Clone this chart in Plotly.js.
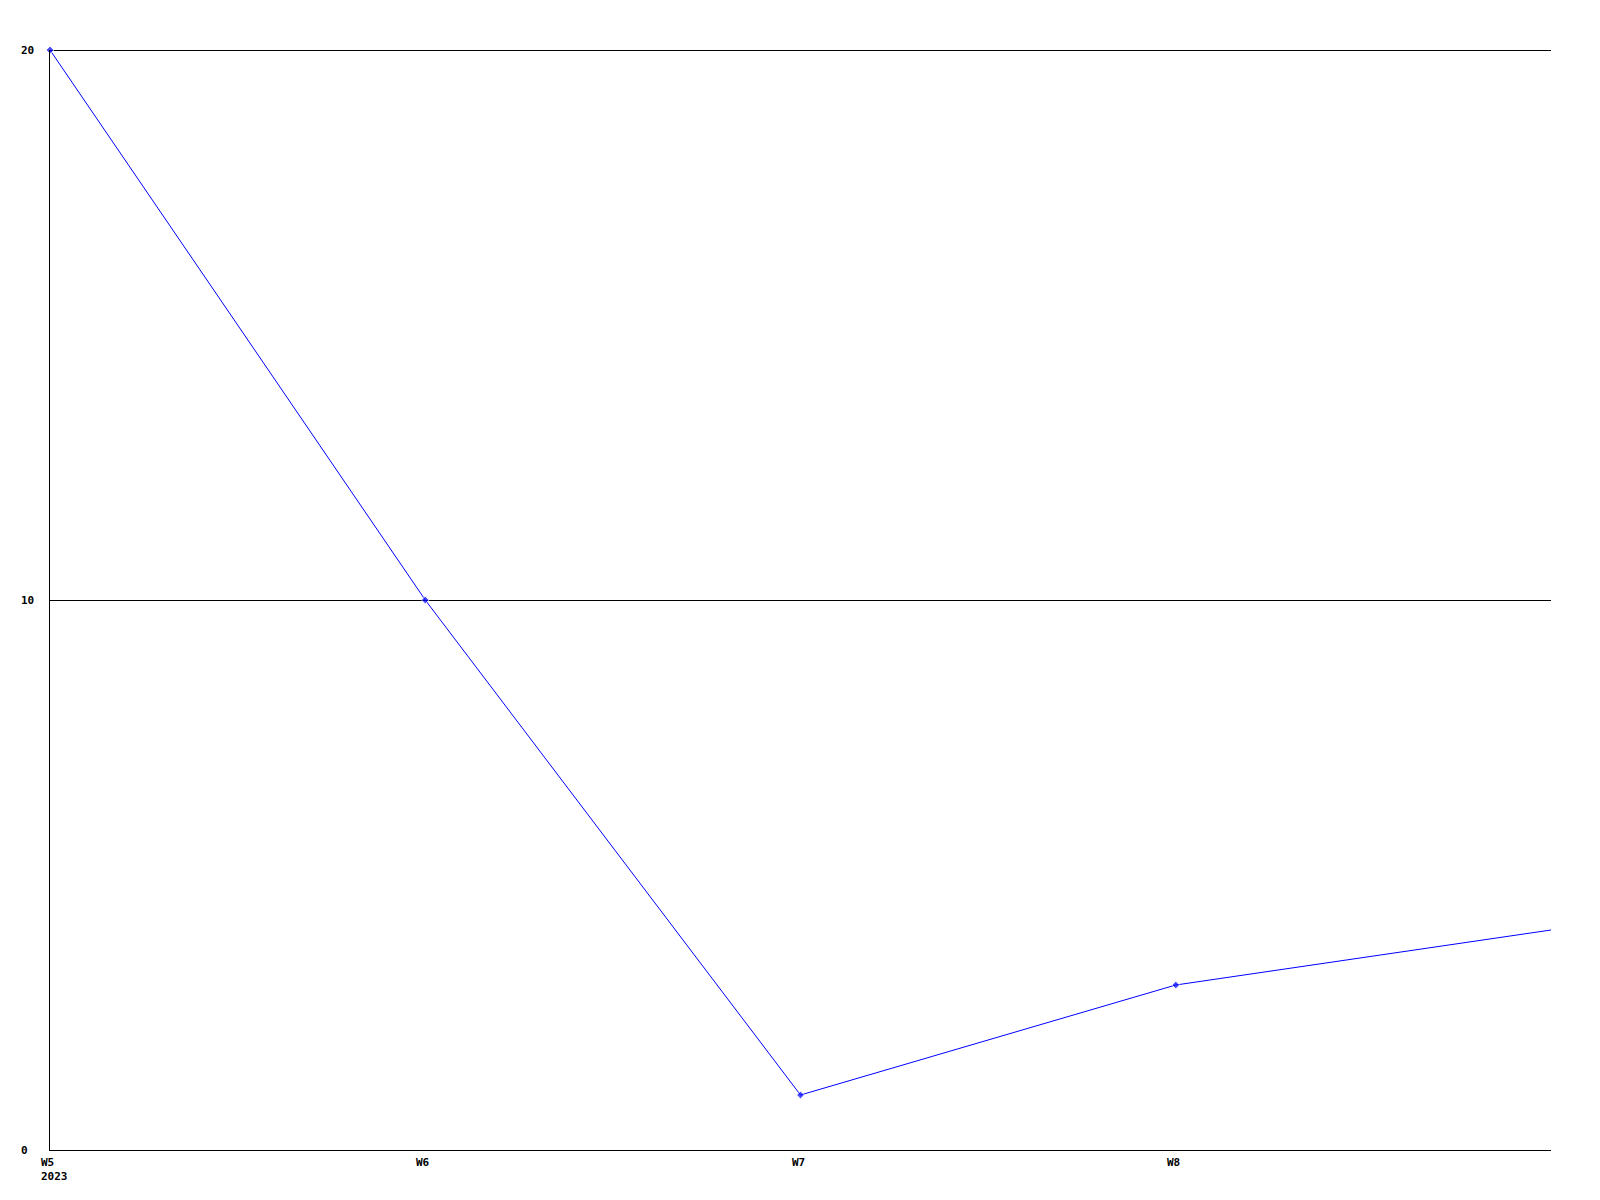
<!DOCTYPE html>
<html>
<head>
<meta charset="utf-8">
<script src="https://cdn.plot.ly/plotly-3.0.1.min.js"></script>
<style>
html,body{margin:0;padding:0;background:#fff;}
#chart{width:1600px;height:1200px;}
#chart .shapelayer path{shape-rendering:crispEdges;}
</style>
</head>
<body>
<div id="chart"></div>
<script>
// Data
const weekIndex = [0, 1, 2, 3, 4];
const values = [20, 10, 1, 3, 4];
const tickPositions = [0, 1, 2, 3];
const tickLabels = ["W5<br>2023", "W6", "W7", "W8"];
const yTicks = [0, 10, 20];

const font = {family: "DejaVu Sans Mono, monospace", size: 11, color: "#000"};

const trace = {
  x: weekIndex,
  y: values,
  type: "scatter",
  mode: "lines+markers",
  line: {color: "#0000ff", width: 1},
  marker: {color: "#0000ff", size: weekIndex.map((_, i) => i === weekIndex.length - 1 ? 0 : 6), symbol: "diamond"},
  cliponaxis: false,
  hoverinfo: "none"
};

const bold = s => "<b>" + s.split("<br>").join("</b><br><b>") + "</b>";

const xAnnotations = tickPositions.map((p, i) => ({
  x: p, xref: "x",
  y: 0, yref: "paper",
  yanchor: "top", xanchor: "left",
  xshift: -11, yshift: -4,
  align: "left",
  showarrow: false,
  text: bold(tickLabels[i]),
  font: font
}));

const yAnnotations = yTicks.map(v => ({
  x: 0, xref: "paper",
  y: v, yref: "y",
  xanchor: "left", yanchor: "middle",
  xshift: -31,
  align: "left",
  showarrow: false,
  text: bold(String(v)),
  font: font
}));

const gridShapes = yTicks.filter(v => v > 0).map(v => ({
  type: "line", xref: "paper", yref: "y",
  x0: 0, x1: 1, y0: v, y1: v,
  line: {color: "#000", width: 1},
  layer: "below"
}));

const layout = {
  width: 1600, height: 1200,
  margin: {l: 50, r: 49, t: 50, b: 50},
  paper_bgcolor: "#fff", plot_bgcolor: "#fff",
  showlegend: false,
  font: font,
  xaxis: {
    range: [0, 4],
    showgrid: false, zeroline: false,
    showline: true, linecolor: "#000", linewidth: 1,
    showticklabels: false, ticks: "",
    fixedrange: true
  },
  yaxis: {
    range: [0, 20],
    tickvals: yTicks,
    showgrid: false,
    zeroline: false,
    showline: true, linecolor: "#000", linewidth: 1,
    showticklabels: false, ticks: "",
    fixedrange: true
  },
  shapes: gridShapes,
  annotations: xAnnotations.concat(yAnnotations)
};

Plotly.newPlot("chart", [trace], layout, {displayModeBar: false, staticPlot: true});
</script>
</body>
</html>
